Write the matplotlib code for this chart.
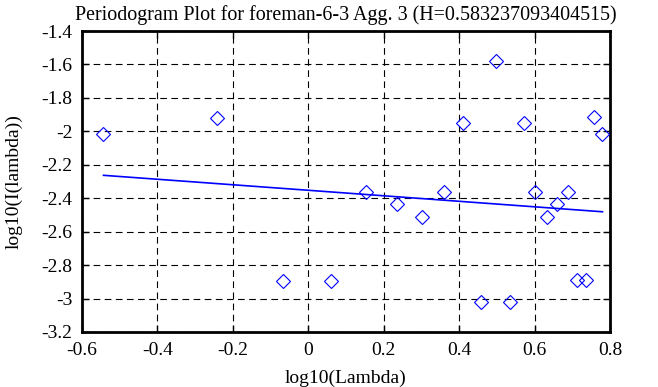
import matplotlib
matplotlib.use("Agg")
import matplotlib.pyplot as plt
from matplotlib.ticker import FuncFormatter, MultipleLocator

title = "Periodogram Plot for foreman-6-3 Agg. 3 (H=0.583237093404515)"
xlabel = "log10(Lambda)"
ylabel = "log10(I(lambda))"

log_lambda = [-0.543, -0.243, -0.066, 0.060, 0.154, 0.235, 0.301, 0.360, 0.410,
              0.457, 0.498, 0.535, 0.571, 0.602, 0.632, 0.660, 0.688, 0.712,
              0.737, 0.758, 0.780]
log_I = [-2.018, -1.918, -2.893, -2.893, -2.361, -2.433, -2.511, -2.361, -1.948,
         -3.019, -1.578, -3.019, -1.948, -2.361, -2.511, -2.433, -2.361, -2.891,
         -2.891, -1.916, -2.016]
fit_x = [-0.543, 0.780]
fit_y = [-2.263, -2.481]

plt.rcParams['font.family'] = ['Liberation Serif', 'DejaVu Serif']
plt.rcParams['font.size'] = 14

fig = plt.figure(figsize=(6.58, 3.87), dpi=100)
ax = fig.add_axes([82/658, 1-332/387, 528/658, 301/387])

ax.plot(fit_x, fit_y, color='#0000ff', lw=1.2, zorder=3)
ax.plot(log_lambda, log_I, linestyle='none', marker='D', ms=7.5, mfc='none',
        mec='#0000ff', mew=0.8, zorder=4)

ax.set_xlim(-0.6, 0.8)
ax.set_ylim(-3.2, -1.4)
ax.xaxis.set_major_locator(MultipleLocator(0.2))
ax.yaxis.set_major_locator(MultipleLocator(0.2))
fmt = FuncFormatter(lambda v, p: ('%g' % round(v, 6)).replace('\u2212', '-'))
ax.xaxis.set_major_formatter(fmt)
ax.yaxis.set_major_formatter(fmt)
ax.grid(True, color='black', linestyle=(0, (6, 4)), linewidth=0.8)
ax.tick_params(direction='in', top=True, right=True, length=5, width=1, labelsize=14, pad=7)
for s in ax.spines.values():
    s.set_linewidth(2)

ax.set_title(title, fontsize=14.4, pad=8)
ax.set_xlabel(xlabel, fontsize=14, labelpad=8)
ax.set_ylabel(ylabel, fontsize=14, labelpad=13)

fig.savefig("out.png", dpi=100)
